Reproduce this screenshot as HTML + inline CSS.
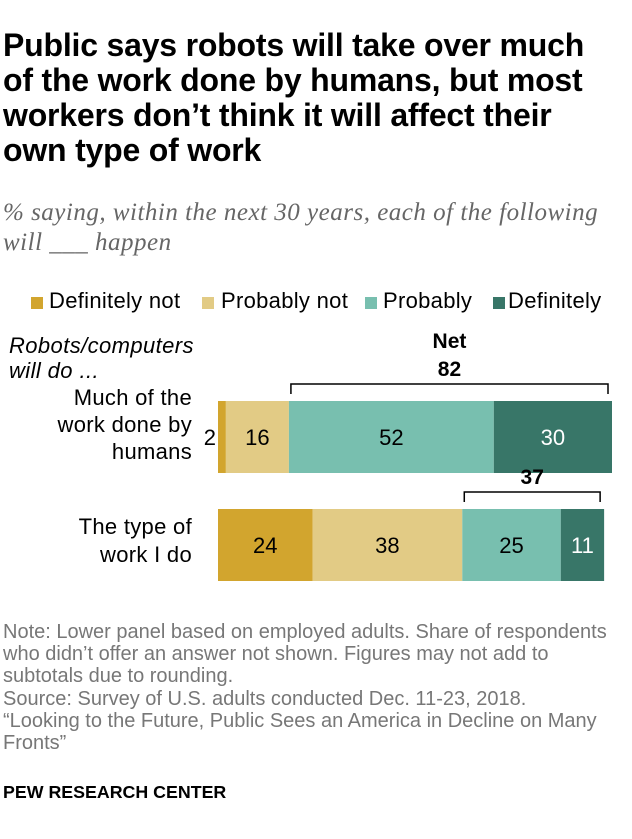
<!DOCTYPE html>
<html><head><meta charset="utf-8">
<style>
body{margin:0;width:632px;height:839px;background:#fff;font-family:"Liberation Sans",sans-serif;overflow:hidden;position:relative}
.t{position:absolute;left:3px;top:28px;font-size:32px;font-weight:bold;line-height:35px;color:#000;white-space:nowrap;letter-spacing:-0.2px}
.sub{position:absolute;left:3px;top:198px;font-family:"Liberation Serif",serif;font-style:italic;font-size:25px;line-height:30px;color:#666;letter-spacing:0.5px;white-space:nowrap}
.leg{position:absolute;top:288px;font-size:22px;color:#000;white-space:nowrap;letter-spacing:0.3px}
.sw{position:absolute;width:12px;height:12px}
.lbl{position:absolute;font-size:22px;line-height:27px;color:#000;letter-spacing:0.3px;white-space:nowrap}
.note{position:absolute;left:3px;top:621px;font-size:20px;line-height:22.2px;color:#777;white-space:nowrap}
.pew{position:absolute;left:3px;top:782px;font-size:17.8px;font-weight:bold;color:#000}
</style></head><body>
<div class="t">Public says robots will take over much<br>of the work done by humans, but most<br>workers don’t think it will affect their<br>own type of work</div>
<div class="sub">% saying, within the next 30 years, each of the following<br>will ___ happen</div>
<div class="sw" style="left:31px;top:297px;background:#D2A52E"></div>
<div class="leg" style="left:49px">Definitely not</div>
<div class="sw" style="left:202px;top:297px;background:#E2CB85"></div>
<div class="leg" style="left:221px">Probably not</div>
<div class="sw" style="left:365px;top:297px;background:#78BFAF"></div>
<div class="leg" style="left:383px">Probably</div>
<div class="sw" style="left:493px;top:297px;background:#387668"></div>
<div class="leg" style="left:508px">Definitely</div>
<div class="lbl" style="left:9px;top:333px;font-style:italic;line-height:25px;letter-spacing:0.4px">Robots/computers<br>will do ...</div>
<div class="lbl" style="left:0px;top:384px;width:192px;text-align:right">Much of the<br>work done by<br>humans</div>
<div class="lbl" style="left:0px;top:513px;width:192px;text-align:right;line-height:28px">The type of<br>work I do</div>
<svg id="chart" width="632" height="839" style="position:absolute;left:0;top:0"></svg>
<div class="note">Note: Lower panel based on employed adults. Share of respondents<br>who didn’t offer an answer not shown. Figures may not add to<br>subtotals due to rounding.<br>Source: Survey of U.S. adults conducted Dec. 11-23, 2018.<br>“Looking to the Future, Public Sees an America in Decline on Many<br>Fronts”</div>
<div class="pew">PEW RESEARCH CENTER</div>
<script>
const categories=["Much of the work done by humans","The type of work I do"];
const definitelyNot=[2,24];
const probablyNot=[16,38];
const probably=[52,25];
const definitely=[30,11];
const netValues=[82,37];
const series=[definitelyNot,probablyNot,probably,definitely];
const colors=["#D2A52E","#E2CB85","#78BFAF","#387668"];
const textColors=["#000","#000","#000","#fff"];
const x0=218,unit=3.94;
function xs(v){return x0+v*unit;}
const rowTop=[401,509],barH=72;
const svg=document.getElementById('chart');
const NS="http://www.w3.org/2000/svg";
function mk(tag,attrs){const e=document.createElementNS(NS,tag);for(const k in attrs)e.setAttribute(k,attrs[k]);svg.appendChild(e);return e;}
categories.forEach((c,i)=>{
  let cum=0;
  series.forEach((s,j)=>{
    const v=s[i];
    const r=mk('rect',{x:xs(cum),y:rowTop[i],width:v*unit,height:barH,fill:colors[j]});
    
    
    let tx=xs(cum+v/2),anchor='middle';
    if(v*unit<20){tx=xs(cum)-2;anchor='end';}
    const t=mk('text',{x:tx,y:rowTop[i]+barH/2+8,'text-anchor':anchor,'font-size':22,fill:v*unit<20?'#000':textColors[j],'font-family':'Liberation Sans, sans-serif'});
    t.textContent=v;
    
    
    cum+=v;
  });
  const a=xs(definitelyNot[i]+probablyNot[i])+2,b=xs(definitelyNot[i]+probablyNot[i]+probably[i]+definitely[i])-4;
  const by=rowTop[i]-17;
  const p=mk('path',{d:`M${a} ${by+10}V${by}H${b}V${by+10}`,fill:'none',stroke:'#000','stroke-width':1.5});
  
  
  const nt=mk('text',{x:(a+b)/2,y:by-8,'text-anchor':'middle','font-size':21,'font-weight':'bold','font-family':'Liberation Sans, sans-serif'});
  nt.textContent=netValues[i];
  
  
  if(i===0){
    const n=mk('text',{x:(a+b)/2,y:by-36,'text-anchor':'middle','font-size':21,'font-weight':'bold','font-family':'Liberation Sans, sans-serif'});
    n.textContent='Net';
    
    
  }
});
</script>
</body></html>
